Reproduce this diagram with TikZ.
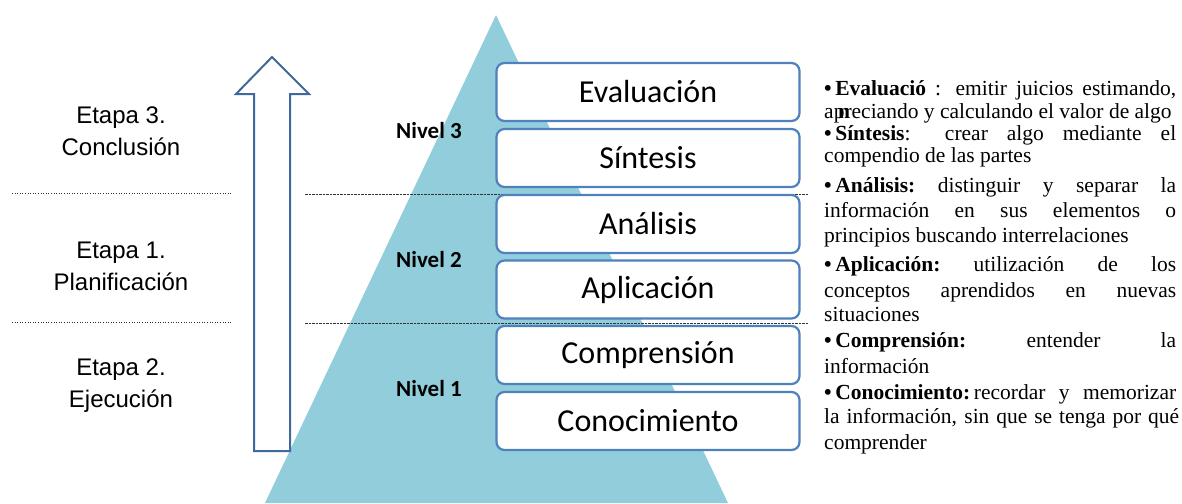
\documentclass[tikz,border=0pt]{standalone}
\usepackage{fontspec}
\setmainfont{Liberation Serif}
\newfontfamily\arialf{Liberation Sans}
\newfontfamily\calib{Carlito}
\definecolor{tri}{RGB}{146,205,220}
\definecolor{boxb}{RGB}{79,129,189}
\definecolor{arrowb}{RGB}{65,104,154}
\tikzset{
  lvlbox/.style={draw=boxb, line width=2.2pt, rounded corners=8pt, fill=white,
    minimum width=303pt, minimum height=58pt, inner sep=0pt,
    font=\calib\fontsize{32}{32}\selectfont},
  etapa/.style={align=center, inner sep=0pt, font=\arialf\fontsize{24}{32}\selectfont},
  nivel/.style={anchor=base, inner sep=0pt, font=\calib\bfseries\fontsize{23}{23}\selectfont},
  txtline/.style={anchor=base west, inner sep=0pt, font=\fontsize{21.5}{22}\selectfont},
  sepdash/.style={line width=0.8pt, dash pattern=on 2.5pt off 1pt, black!80},
  sepdot/.style={line width=1pt, dash pattern=on 1pt off 1.6pt, black!80},
}
\newcommand{\blt}[1]{\mbox{\textbf{•\,#1}}}
\begin{document}
\begin{tikzpicture}[x=1pt,y=-1pt]
\useasboundingbox (0,0) rectangle (1182,503);
% triangle
\fill[tri] (496,15) -- (728,503) -- (265,503) -- cycle;
% arrow
\draw[arrowb, line width=2pt, line join=miter, fill=white]
  (272,57) -- (309,94) -- (290,94) -- (290,451) -- (254,451) -- (254,94) -- (236,94) -- cycle;
% dashed lines
\coordinate (d1a) at (305,194); \coordinate (d1b) at (808,194);
\coordinate (d2a) at (305,323); \coordinate (d2b) at (808,323);
\draw[sepdash] (d1a) -- (d1b);
\draw[sepdash] (d2a) -- (d2b);
\coordinate (l1a) at (12,193); \coordinate (l1b) at (233,193);
\coordinate (l2a) at (12,322); \coordinate (l2b) at (233,322);
\draw[sepdot] (l1a) -- (l1b);
\draw[sepdot] (l2a) -- (l2b);
% boxes
\node[lvlbox] (b6) at (648,92) {Evaluación};
\node[lvlbox] (b5) at (648,158) {Síntesis};
\node[lvlbox] (b4) at (648,224) {Análisis};
\node[lvlbox] (b3) at (648,289.5) {Aplicación};
\node[lvlbox] (b2) at (648,355) {Comprensión};
\node[lvlbox] (b1) at (648,421) {Conocimiento};
% niveles
\node[nivel] (n3) at (429,138) {Nivel 3};
\node[nivel] (n2) at (429,267) {Nivel 2};
\node[nivel] (n1) at (429,396) {Nivel 1};
% etapas
\node[etapa] (e3) at (121,131) {Etapa 3.\\Conclusión};
\node[etapa] (e1) at (121,266) {Etapa 1.\\Planificación};
\node[etapa] (e2) at (121,386) {Etapa 2.\\Ejecución};
% right text
\node[txtline] (t1) at (824,95) {\makebox[352pt][s]{\blt{Evaluació} : emitir juicios estimando,}};
\node[txtline] (t2) at (824,118) {apreciando y calculando el valor de algo};
\node[txtline] (t2n) at (838,118) {\textbf{n}};
\node[txtline] (t3) at (824,140) {\makebox[352pt][s]{\blt{Síntesis}: crear algo mediante el}};
\node[txtline] (t4) at (824,162) {compendio de las partes};
\node[txtline] (t5) at (824,192) {\makebox[352pt][s]{\blt{Análisis:} distinguir y separar la}};
\node[txtline] (t6) at (824,217) {\makebox[352pt][s]{información en sus elementos o}};
\node[txtline] (t7) at (824,242) {principios buscando interrelaciones};
\node[txtline] (t8) at (824,271) {\makebox[352pt][s]{\blt{Aplicación:} utilización de los}};
\node[txtline] (t9) at (824,297) {\makebox[352pt][s]{conceptos aprendidos en nuevas}};
\node[txtline] (t10) at (824,321) {situaciones};
\node[txtline] (t11) at (824,347) {\makebox[352pt][s]{\blt{Comprensión:} entender la}};
\node[txtline] (t12) at (824,373) {información};
\node[txtline] (t13) at (824,399) {\makebox[352pt][s]{\blt{Conocimiento:}\,recordar y memorizar}};
\node[txtline] (t14) at (824,423) {\makebox[355pt][s]{la información, sin que se tenga por qué}};
\node[txtline] (t15) at (824,449) {comprender};
\end{tikzpicture}
\end{document}
